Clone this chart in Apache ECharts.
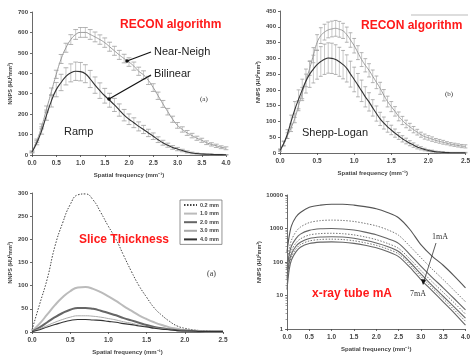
<!DOCTYPE html>
<html>
<head>
<meta charset="utf-8">
<script src="https://cdn.jsdelivr.net/npm/echarts@6/dist/echarts.min.js"></script>
<style>
  html, body { margin: 0; padding: 0; background: #fff; }
  #nnps { width: 473px; height: 357px; }
</style>
</head>
<body>
<div id="nnps"></div>
<script>
// panel (a) top-left: ramp filter, two interpolations
const freqA = [0.0,0.1,0.2,0.3,0.4,0.5,0.6,0.7,0.8,0.9,1.0,1.1,1.2,1.3,1.4,1.5,1.6,1.7,1.8,1.9,2.0,
  2.1,2.2,2.3,2.4,2.5,2.6,2.7,2.8,2.9,3.0,3.1,3.2,3.3,3.4,3.5,3.6,3.7,3.8,3.9,4.0];
const rampNear = [15,70,140,225,310,395,470,525,565,590,600,600,590,578,565,550,530,510,490,472,455,
  435,410,392,365,330,290,250,212,175,145,125,108,95,82,72,60,52,45,38,33];
const rampNearErr = [4,8,12,15,18,20,22,22,24,24,24,24,24,24,23,23,22,22,22,21,21,
  20,20,20,20,19,18,17,16,15,14,13,12,11,10,10,9,8,8,7,7];
const rampBil = [15,60,120,195,265,320,355,385,402,410,408,398,372,342,315,290,268,245,220,195,175,
  158,140,125,108,92,75,60,48,37,29,22,15,10,7,5,4,3,2,2,1];
const rampBilErr = [4,10,18,25,30,35,40,42,44,45,45,44,42,40,38,36,34,32,30,28,26,
  24,22,20,18,16,14,12,10,9,8,6,5,4,3,2,2,2,1,1,1];

// panel (b) top-right: Shepp-Logan filter
const freqB = [0.00,0.05,0.10,0.15,0.20,0.25,0.30,0.35,0.40,0.45,0.50,0.55,0.60,0.65,0.70,0.75,0.80,0.85,0.90,0.95,
  1.00,1.05,1.10,1.15,1.20,1.25,1.30,1.35,1.40,1.45,1.50,1.55,1.60,1.65,1.70,1.75,1.80,1.85,1.90,1.95,
  2.00,2.05,2.10,2.15,2.20,2.25,2.30,2.35,2.40,2.45,2.50];
const sheppNear = [10,30,55,80,110,150,190,230,268,310,350,372,383,390,393,395,392,387,375,358,
  340,318,296,278,262,243,224,205,183,163,147,132,116,103,92,83,74,66,58,52,
  48,44,40,37,34,31,28,26,24,22,21];
const sheppNearErr = [3,6,9,12,14,16,18,20,22,24,25,25,25,25,25,25,25,24,24,23,
  23,22,22,21,21,20,20,19,18,17,16,15,14,13,12,11,10,9,8,8,
  7,7,6,6,6,5,5,5,5,5,5];
const sheppBil = [8,30,60,100,138,170,200,228,250,266,280,290,297,301,300,296,289,280,268,250,
  233,215,197,178,162,143,125,108,95,83,73,63,54,45,38,31,25,19,15,11,
  8,6,4,3,2,1.5,1,1,1,1,1];
const sheppBilErr = [3,8,14,20,25,30,34,38,42,44,46,47,48,48,48,47,46,45,43,41,
  39,37,34,32,29,26,24,21,19,17,15,13,11,10,9,8,7,6,5,4,
  3,3,2,2,2,1,1,1,1,1,1];

// panel (a) bottom-left: slice thickness
const freqC = [0.0,0.1,0.2,0.3,0.4,0.5,0.6,0.7,0.8,0.9,1.0,1.1,1.2,1.3,1.4,1.5,1.6,1.7,1.8,1.9,2.0,2.1,2.2,2.3,2.4,2.5];
const slice02 = [5,60,115,185,235,275,296,298,285,258,228,200,165,131,100,75,52,36,23,13,8,5,3,2,1,1];
const slice10 = [2,18,38,58,75,88,96,97,93,86,77,67,56,46,36,28,21,15,10,7,4,3,2,1,1,1];
const slice20 = [1,10,21,32,41,48,52,52,50,46,41,36,30,25,20,15,11,8,6,4,3,2,1,1,1,1];
const slice30 = [1,7,14,21,27,32,35,35,34,32,29,26,22,19,15,12,9,7,5,3,2,2,1,1,1,1];
const slice40 = [1,5,11,16,21,25,27,27,26,25,23,21,18,16,13,11,8,6,5,3,2,2,1,1,1,1];
const sliceNames = ['0.2 mm', '1.0 mm', '2.0 mm', '3.0 mm', '4.0 mm'];

// panel bottom-right: tube current, log scale, 1mA (top) to 7mA (bottom)
const freqD = [0,0.05,0.1,0.2,0.3,0.5,0.75,1.0,1.25,1.5,1.75,2.0,2.25,2.5,2.75,3.0,3.25,3.5,3.75,4.0];
const mA1 = [200,600,1200,2200,3000,4300,5000,5300,5300,5000,4500,3900,3000,2100,950,330,150,80,38,17];
const mA2 = [90,250,450,800,1100,1500,1720,1780,1740,1620,1420,1200,920,630,300,135,62,30,14,6.5];
const mA3 = [60,170,300,500,680,880,980,1000,970,900,780,650,500,360,170,75,35,17,8,3.7];
const mA4 = [45,130,220,370,490,640,705,720,700,645,560,465,360,255,125,56,26,12.5,6,2.8];
const mA5 = [32,100,175,295,390,505,560,570,555,510,445,370,290,205,100,44,20,9.5,4.5,2.1];
const mA6 = [22,80,145,245,330,425,470,480,468,430,375,315,245,175,85,37,17,8,3.7,1.7];
const mA7 = [15,60,115,200,275,355,392,400,390,360,315,265,205,145,70,30,14,6.5,3,1.3];

const ink = '#444';
const yTitle = 'NNPS (HU\u00b2mm\u00b3)';
const xTitle = 'Spatial frequency (mm\u207b\u00b9)';

function pairs(xs, ys) { return xs.map((x, i) => [x, ys[i]]); }
function triples(xs, ys, es) { return xs.map((x, i) => [x, ys[i], es[i]]); }

// vertical error bar with caps; cap half-width passed in so neighbouring caps join into a band
function errorBars(cap) {
  return function (params, api) {
    const x = api.value(0), y = api.value(1), e = api.value(2);
    const hi = api.coord([x, y + e]);
    const lo = api.coord([x, Math.max(y - e, 0)]);
    const st = { stroke: '#b0b0b0', lineWidth: 0.7 };
    const capSt = { stroke: '#a0a0a0', lineWidth: 0.8 };
    return {
      type: 'group',
      children: [
        { type: 'line', shape: { x1: hi[0], y1: hi[1], x2: lo[0], y2: lo[1] }, style: st },
        { type: 'line', shape: { x1: hi[0] - cap, y1: hi[1], x2: hi[0] + cap, y2: hi[1] }, style: capSt },
        { type: 'line', shape: { x1: lo[0] - cap, y1: lo[1], x2: lo[0] + cap, y2: lo[1] }, style: capSt }
      ]
    };
  };
}

function xAxisOf(idx, max) {
  return {
    type: 'value', gridIndex: idx, min: 0, max: max, interval: 0.5,
    name: xTitle, nameLocation: 'middle', nameGap: 17,
    nameTextStyle: { fontSize: 6, fontWeight: 'bold', color: ink, fontFamily: 'Liberation Sans' },
    axisLine: { lineStyle: { color: ink, width: 0.8 } },
    axisTick: { length: 2, lineStyle: { color: ink, width: 0.8 } },
    axisLabel: { fontSize: 6.5, fontWeight: 'bold', color: ink, margin: 5, fontFamily: 'Liberation Sans',
      formatter: v => v.toFixed(1) },
    splitLine: { show: false }
  };
}

function yAxisOf(idx, max, interval, gap) {
  return {
    type: 'value', gridIndex: idx, min: 0, max: max, interval: interval,
    name: yTitle, nameLocation: 'middle', nameGap: gap, nameRotate: 90,
    nameTextStyle: { fontSize: 5.5, fontWeight: 'bold', color: ink, fontFamily: 'Liberation Sans' },
    axisLine: { show: true, lineStyle: { color: ink, width: 0.8 } },
    axisTick: { show: true, length: 2, lineStyle: { color: ink, width: 0.8 } },
    axisLabel: { fontSize: 6, fontWeight: 'bold', color: ink, margin: 4, fontFamily: 'Liberation Sans' },
    splitLine: { show: false }
  };
}

const chart = echarts.init(document.getElementById('nnps'));

function curve(name, xi, xs, ys, color, width, dash) {
  return {
    type: 'line', name: name, symbol: 'none', smooth: true, z: 3, silent: true,
    xAxisIndex: xi, yAxisIndex: xi, data: pairs(xs, ys),
    itemStyle: { color: color },
    lineStyle: { color: color, width: width, type: dash || 'solid' }
  };
}

const series = [
  // top-left
  { type: 'custom', xAxisIndex: 0, yAxisIndex: 0, renderItem: errorBars(2.4), data: triples(freqA, rampNear, rampNearErr), z: 2, silent: true },
  { type: 'custom', xAxisIndex: 0, yAxisIndex: 0, renderItem: errorBars(2.4), data: triples(freqA, rampBil, rampBilErr), z: 2, silent: true },
  curve('Near-Neigh', 0, freqA, rampNear, '#999', 1),
  curve('Bilinear', 0, freqA, rampBil, '#333', 1.1),
  // top-right
  { type: 'custom', xAxisIndex: 1, yAxisIndex: 1, renderItem: errorBars(1.9), data: triples(freqB, sheppNear, sheppNearErr), z: 2, silent: true },
  { type: 'custom', xAxisIndex: 1, yAxisIndex: 1, renderItem: errorBars(1.9), data: triples(freqB, sheppBil, sheppBilErr), z: 2, silent: true },
  curve('SL Near-Neigh', 1, freqB, sheppNear, '#999', 1),
  curve('SL Bilinear', 1, freqB, sheppBil, '#333', 1.1),
  // bottom-left
  curve(sliceNames[0], 2, freqC, slice02, '#444', 1, [1.5, 1.5]),
  curve(sliceNames[1], 2, freqC, slice10, '#bbb', 2),
  curve(sliceNames[2], 2, freqC, slice20, '#666', 2),
  curve(sliceNames[3], 2, freqC, slice30, '#aaa', 1),
  curve(sliceNames[4], 2, freqC, slice40, '#333', 1.1)
];

const mAcurves = [mA1, mA2, mA3, mA4, mA5, mA6, mA7];
mAcurves.forEach((vals, i) => {
  const dotted = i % 2 === 1;
  const s = curve((i + 1) + 'mA', 3, freqD, vals, i === 0 ? '#555' : '#666', dotted ? 0.9 : 1.1, dotted ? [1.5, 1.5] : 'solid');
  s.smooth = 0.3;
  series.push(s);
});

function label(text, x, y, opts) {
  return {
    type: 'text', left: x, top: y, z: 10, silent: true,
    style: Object.assign({ text: text, fill: '#222', fontSize: 11, fontFamily: 'Liberation Sans' }, opts || {})
  };
}
const redTitle = { fill: '#ff1a1a', fontSize: 12, fontWeight: 'bold', fontFamily: 'Liberation Sans' };
const serif = { fontFamily: 'Liberation Serif', fontSize: 7, fill: '#333' };

const option = {
  animation: false,
  grid: [
    { left: 32, top: 12, width: 194, height: 143 },
    { left: 280, top: 11, width: 188, height: 142 },
    { left: 32, top: 193, width: 191, height: 139 },
    { left: 287, top: 195, width: 181, height: 134 }
  ],
  xAxis: [xAxisOf(0, 4), xAxisOf(1, 2.5), xAxisOf(2, 2.5), xAxisOf(3, 4)],
  yAxis: [
    yAxisOf(0, 700, 100, 19),
    yAxisOf(1, 450, 50, 19),
    yAxisOf(2, 300, 50, 19),
    {
      type: 'log', gridIndex: 3, min: 1, max: 10000, logBase: 10,
      name: yTitle, nameLocation: 'middle', nameGap: 23, nameRotate: 90,
      nameTextStyle: { fontSize: 5.5, fontWeight: 'bold', color: ink, fontFamily: 'Liberation Sans' },
      axisLine: { show: true, lineStyle: { color: ink, width: 0.8 } },
      axisTick: { show: true, length: 2, lineStyle: { color: ink, width: 0.8 } },
      minorTick: { show: true, splitNumber: 9, length: 1.5, lineStyle: { color: ink, width: 0.5 } },
      axisLabel: { fontSize: 6, fontWeight: 'bold', color: ink, margin: 4, fontFamily: 'Liberation Sans',
        formatter: v => String(Math.round(v)) },
      splitLine: { show: false }
    }
  ],
  legend: {
    data: sliceNames, orient: 'vertical', left: 180, top: 200,
    itemWidth: 13, itemHeight: 5, itemGap: 2.6, padding: [2, 3, 2, 3],
    borderColor: '#666', borderWidth: 0.7, selectedMode: false,
    itemStyle: { opacity: 0 },
    textStyle: { fontSize: 5.5, fontWeight: 'bold', color: ink, fontFamily: 'Liberation Sans', padding: [0, 0, 0, -2] }
  },
  graphic: [
    label('RECON algorithm', 120, 19, redTitle),
    label('RECON algorithm', 361, 20, redTitle),
    label('Slice Thickness', 79, 234, redTitle),
    label('x-ray tube mA', 312, 288, redTitle),
    label('Near-Neigh', 154, 46),
    label('Bilinear', 154, 68),
    label('Ramp', 64, 126),
    label('Shepp-Logan', 302, 127),
    label('(a)', 200, 96, serif),
    label('(b)', 445, 91, serif),
    label('(a)', 207, 270, Object.assign({}, serif, { fontSize: 8 })),
    label('1mA', 432, 233, Object.assign({}, serif, { fontSize: 8 })),
    label('7mA', 410, 290, Object.assign({}, serif, { fontSize: 8 })),
    { type: 'line', silent: true, z: 10, shape: { x1: 151, y1: 52, x2: 127, y2: 61 }, style: { stroke: '#111', lineWidth: 1.2 } },
    { type: 'circle', silent: true, z: 10, shape: { cx: 127, cy: 61, r: 1.8 }, style: { fill: '#111' } },
    { type: 'line', silent: true, z: 10, shape: { x1: 151, y1: 75, x2: 109, y2: 99 }, style: { stroke: '#111', lineWidth: 1.2 } },
    { type: 'circle', silent: true, z: 10, shape: { cx: 109, cy: 99, r: 1.8 }, style: { fill: '#111' } },
    { type: 'line', silent: true, z: 10, shape: { x1: 436, y1: 243, x2: 424, y2: 281 }, style: { stroke: '#333', lineWidth: 0.8 } },
    { type: 'polygon', silent: true, z: 10, shape: { points: [[423, 285], [421, 279], [426, 280]] }, style: { fill: '#111' } },
    { type: 'line', silent: true, z: 10, shape: { x1: 411, y1: 15, x2: 468, y2: 15 }, style: { stroke: '#aaa', lineWidth: 0.8 } }
  ],
  series: series
};

chart.setOption(option);
</script>
</body>
</html>
